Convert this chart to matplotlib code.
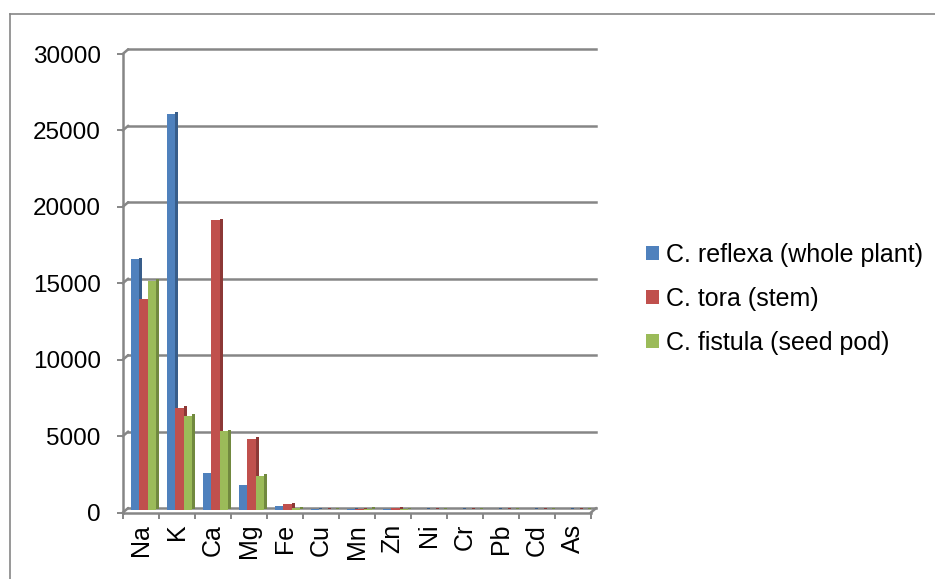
import matplotlib
matplotlib.use("Agg")
import matplotlib.pyplot as plt
from matplotlib.transforms import offset_copy
from matplotlib.lines import Line2D
import numpy as np

elements = ["Na", "K", "Ca", "Mg", "Fe", "Cu", "Mn", "Zn", "Ni", "Cr", "Pb", "Cd", "As"]
reflexa = [16400, 25900, 2400, 1650, 260, 40, 60, 50, 30, 30, 20, 15, 10]
tora = [13800, 6700, 18950, 4650, 370, 30, 40, 110, 20, 25, 20, 15, 10]
fistula = [15000, 6150, 5150, 2250, 130, 25, 70, 40, 20, 20, 20, 15, 10]
series_names = ["C. reflexa (whole plant)", "C. tora (stem)", "C. fistula (seed pod)"]
yticks = [0, 5000, 10000, 15000, 20000, 25000, 30000]

colors = ["#4F81BD", "#C0504D", "#9BBB59"]
sides = ["#385D8A", "#8C3836", "#71893F"]
grey = "#868686"

plt.rcParams["font.family"] = ["Liberation Sans", "DejaVu Sans"]
fs = 17.5

fig = plt.figure(figsize=(9.35, 5.79), dpi=100)
ax = fig.add_axes([122.7 / 935, (579 - 512.7) / 579, 468 / 935, 458.7 / 579])
ax.set_xlim(-0.5, len(elements) - 0.5)
ax.set_ylim(0, 30000)

# back wall / middle depth offsets (pixels)
back = offset_copy(ax.transData, fig=fig, x=5.5, y=4.7, units="dots")
mid = offset_copy(ax.transData, fig=fig, x=2.7, y=2.7, units="dots")
side_tr = offset_copy(ax.transData, fig=fig, x=2.7, y=4.2, units="dots")

for v in yticks:
    ax.plot([-0.5, len(elements) - 0.5], [v, v], color=grey, lw=1.8,
            transform=back, clip_on=False, zorder=1)
    ax.annotate("", xy=(-0.5, v), xytext=(5.5, 4.7), textcoords="offset pixels",
                arrowprops=dict(arrowstyle="-", color=grey, lw=1.8, shrinkA=0, shrinkB=0),
                annotation_clip=False)
# right floor edge
ax.annotate("", xy=(len(elements) - 0.5, 0), xytext=(5.5, 4.7), textcoords="offset pixels",
            arrowprops=dict(arrowstyle="-", color=grey, lw=1.8, shrinkA=0, shrinkB=0),
            annotation_clip=False)

x = np.arange(len(elements))
w = 0.235
handles = []
for k, vals in enumerate([reflexa, tora, fistula]):
    pos = x + (k - 1) * w
    ax.bar(pos + w / 2 + 0.04, vals, width=0.08, color=sides[k], transform=side_tr,
           zorder=2 + 2 * k, clip_on=False)
    b = ax.bar(pos, vals, width=w, color=colors[k], transform=mid,
               zorder=3 + 2 * k, label=series_names[k], clip_on=False)
    handles.append(b)

for s in ["top", "right"]:
    ax.spines[s].set_visible(False)
for s in ["left", "bottom"]:
    ax.spines[s].set_color(grey)
    ax.spines[s].set_linewidth(1.8)
    ax.spines[s].set_zorder(10)

ax.set_yticks(yticks)
ax.set_yticklabels([str(v) for v in yticks], fontsize=fs)
ax.tick_params(axis="y", length=4.3, width=1.4, color=grey, pad=11.5)
ax.set_xticks(x)
ax.set_xticklabels(elements, rotation=90, fontsize=18)
ax.set_xticks(np.arange(-0.5, len(elements)), minor=True)
ax.tick_params(axis="x", which="major", length=0, pad=8)
ax.tick_params(axis="x", which="minor", length=4.3, width=1.4, color=grey)

fig.legend(handles=handles, loc="center left", bbox_to_anchor=(646 / 935, 1 - 299 / 579),
           bbox_transform=fig.transFigure, frameon=False, fontsize=18,
           handlelength=0.5, handleheight=0.5, handletextpad=0.28,
           labelspacing=0.8, borderpad=0, borderaxespad=0)

# outer chart border (only top and left visible)
fig.add_artist(Line2D([10 / 935, 1.0], [1 - 14 / 579, 1 - 14 / 579], color=grey, lw=1.2,
                      transform=fig.transFigure))
fig.add_artist(Line2D([10 / 935, 10 / 935], [0.0, 1 - 14 / 579], color=grey, lw=1.2,
                      transform=fig.transFigure))

fig.savefig("out.png", dpi=100)
